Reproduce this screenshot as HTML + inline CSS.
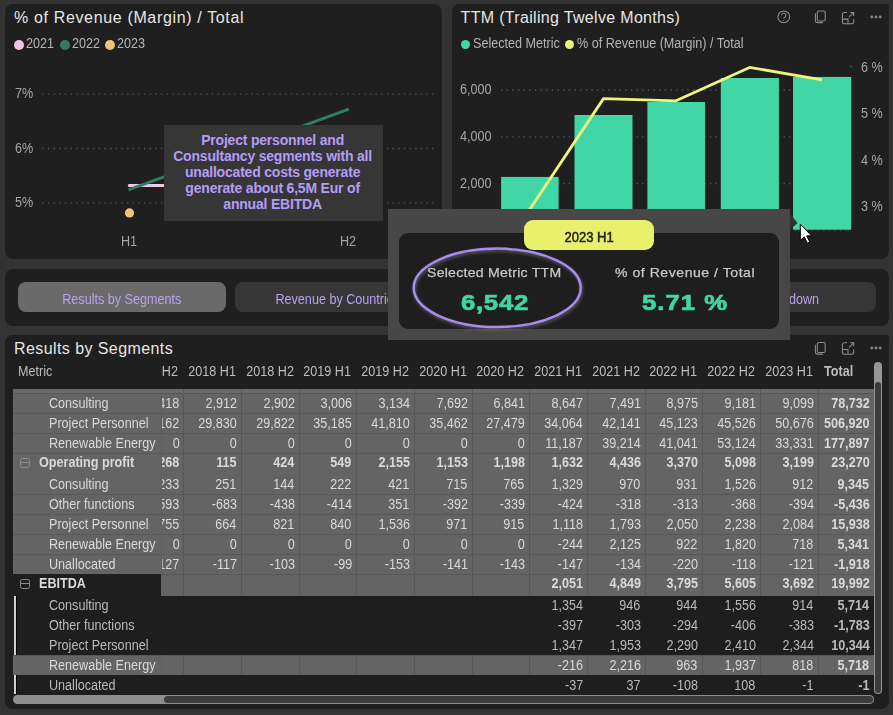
<!DOCTYPE html>
<html><head><meta charset="utf-8">
<style>
*{margin:0;padding:0;box-sizing:border-box}
html,body{width:893px;height:715px;overflow:hidden;background:#333333;font-family:"Liberation Sans",sans-serif}
.p{position:absolute;background:#1f1f1f;border-radius:8px}
.abs{position:absolute}
.t{position:absolute;white-space:nowrap;font-size:14px;line-height:20px;transform:scaleX(0.9);transform-origin:0 0}
.tr{transform-origin:100% 0}
.tc{transform-origin:50% 0}
.title{position:absolute;font-size:16px;line-height:20px;color:#e6e6e6;white-space:nowrap}
.leg{color:#b4b4b4}
.ax{color:#a6a6a6}
.dot{position:absolute;width:9.8px;height:9.8px;border-radius:50%}
.band{position:absolute;background:#6a6a6a}
.rg{position:absolute;background:#646464}
.rd{position:absolute;background:#1e1e1e}
.hs{position:absolute;height:1px;background:#575757}
.vs{position:absolute;width:1px;background:#575757}
.tg{color:#d9d9d9}
.td{color:#bababa}
.b{font-weight:bold}
.minus{position:absolute;width:10px;height:9.7px;border:1.3px solid #8c8c8c;border-radius:2.5px}
.minus:after{content:"";position:absolute;left:0;right:0;top:3.2px;height:1.1px;background:#8c8c8c}
.hd{color:#bdbdbd}
.btn{position:absolute;border-radius:8px;background:#363636;overflow:hidden}
.bt{color:#b9a1f3}
</style></head><body>
<!-- panel A -->
<div class="p" style="left:5px;top:4px;width:437px;height:254.8px"></div>
<div class="title" style="left:14px;top:8.2px;letter-spacing:0.65px">% of Revenue (Margin) / Total</div>
<div class="dot" style="left:14.4px;top:39.9px;background:#f2c3e6"></div>
<div class="t leg" style="left:26.1px;top:33.1px">2021</div>
<div class="dot" style="left:59.9px;top:39.9px;background:#2e7d5e"></div>
<div class="t leg" style="left:71.5px;top:33.1px">2022</div>
<div class="dot" style="left:105px;top:39.9px;background:#eec478"></div>
<div class="t leg" style="left:117px;top:33.1px">2023</div>
<div class="t ax" style="left:14.7px;top:83.1px">7%</div>
<div class="t ax" style="left:14.7px;top:137.5px">6%</div>
<div class="t ax" style="left:14.7px;top:191.8px">5%</div>
<svg class="abs" style="left:0;top:0" width="893" height="715">
<g stroke="#575757" stroke-width="1.3" stroke-dasharray="1.3 4.35">
<line x1="42.3" y1="94.1" x2="437" y2="94.1"/>
<line x1="42.3" y1="148.5" x2="437" y2="148.5"/>
<line x1="42.3" y1="202.9" x2="437" y2="202.9"/>
</g>
<line x1="129.3" y1="185.5" x2="165" y2="185.5" stroke="#f5c6ea" stroke-width="3" stroke-linecap="round"/>
<line x1="128.5" y1="189.8" x2="348.8" y2="109.2" stroke="#2d7f5f" stroke-width="3"/>
<circle cx="129.5" cy="212.9" r="4.6" fill="#efc478"/>
</svg>
<div class="t ax tc" style="left:109px;width:40px;text-align:center;top:231.2px">H1</div>
<div class="t ax tc" style="left:328px;width:40px;text-align:center;top:231.2px">H2</div>
<div class="abs" style="left:163.5px;top:125.3px;width:219.6px;height:95.7px;background:#363636"></div>
<div class="abs" style="left:162.6px;top:131.5px;width:220px;color:#b59cf6;font-weight:bold;font-size:14px;line-height:16px;text-align:center;letter-spacing:-0.2px;white-space:nowrap">Project personnel and<br>Consultancy segments with all<br>unallocated costs generate<br>generate about 6,5M Eur of<br>annual EBITDA</div>

<!-- panel B -->
<div class="p" style="left:452px;top:4px;width:436.8px;height:254.6px;border-top-right-radius:3px"></div>
<div class="title" style="left:460.6px;top:8.2px;letter-spacing:0.32px">TTM (Trailing Twelve Months)</div>
<div class="dot" style="left:460.6px;top:39.6px;background:#41d6a6"></div>
<div class="t leg" style="left:472.7px;top:33.1px">Selected Metric</div>
<div class="dot" style="left:564.6px;top:39.6px;background:#eef27a"></div>
<div class="t leg" style="left:577px;top:33.1px">% of Revenue (Margin) / Total</div>
<div class="t ax" style="left:460.2px;top:79.4px">6,000</div>
<div class="t ax" style="left:460.2px;top:126.1px">4,000</div>
<div class="t ax" style="left:460.2px;top:173.4px">2,000</div>
<svg class="abs" style="left:0;top:0" width="893" height="715">
<g stroke="#575757" stroke-width="1.3" stroke-dasharray="1.3 4.35">
<line x1="501" y1="90" x2="851" y2="90"/>
<line x1="501" y1="136.9" x2="851" y2="136.9"/>
<line x1="501" y1="183.5" x2="851" y2="183.5"/>
<line x1="501" y1="230.4" x2="851" y2="230.4"/>
</g>
<circle cx="851" cy="66.5" r="0.7" fill="#777"/>
<g fill="#41d6a6">
<rect x="501.1" y="176.9" width="57.5" height="53.1"/>
<rect x="574.5" y="115" width="58" height="115"/>
<rect x="647.4" y="102" width="57.6" height="128"/>
<rect x="720.8" y="78" width="58.1" height="152"/>
<rect x="793" y="76.9" width="58.2" height="152.8"/>
</g>
<polyline points="528,212 603.5,98.6 676,100.8 749.6,67.4 822,79.8" fill="none" stroke="#eff47b" stroke-width="2.8" stroke-linejoin="round"/>
</svg>
<div class="t ax" style="left:860.9px;top:56.6px">6 %</div>
<div class="t ax" style="left:860.9px;top:103.4px">5 %</div>
<div class="t ax" style="left:860.9px;top:149.8px">4 %</div>
<div class="t ax" style="left:860.9px;top:196.2px">3 %</div>
<svg class="abs" style="left:770px;top:0" width="123" height="40" fill="none" stroke="#8e8e8e" stroke-width="1.05">
<circle cx="13.8" cy="16.8" r="5.9"/>
<path d="M11.7 15.2a2.1 2.1 0 1 1 3.2 1.8c-.8.5-1.1.9-1.1 1.7" />
<circle cx="13.8" cy="20.5" r="0.5" fill="#9a9a9a" stroke="none"/>
<g transform="translate(45.4 11)"><rect x="1.9" y="0" width="7.9" height="9.9" rx="1.5"/><path d="M0 2.3V9.6a2 2 0 0 0 2 2H7.5"/></g>
<g transform="translate(72.4 12.4)"><path d="M4.6 0H2a2 2 0 0 0-2 2V9.4a2 2 0 0 0 2 2H9.3a2 2 0 0 0 2-2V6.7M0 6.7H5.6V11.4M6.6 4.8L11.3 0M7.8 0H11.3V3.5"/></g>
<circle cx="101.8" cy="17" r="1.4" fill="#8a8a8a" stroke="none"/>
<circle cx="106" cy="17" r="1.4" fill="#8a8a8a" stroke="none"/>
<circle cx="110.2" cy="17" r="1.4" fill="#8a8a8a" stroke="none"/>
</svg>

<!-- panel C buttons -->
<div class="p" style="left:5px;top:269px;width:883.8px;height:56.6px"></div>
<div class="btn" style="left:18px;top:282px;width:207.6px;height:29.8px;background:#6a6a6a"></div>
<div class="t bt tc" style="left:18px;width:207.6px;text-align:center;top:288.8px">Results by Segments</div>
<div class="btn" style="left:235.2px;top:282.2px;width:207.6px;height:29.6px"></div>
<div class="t bt tc" style="left:234.2px;width:207.6px;text-align:center;top:288.8px">Revenue by Countries</div>
<div class="btn" style="left:452px;top:282.2px;width:207.6px;height:29.6px"></div>
<div class="btn" style="left:668.2px;top:282px;width:207.6px;height:30px"></div>
<div class="t bt tr" style="right:73.8px;top:288.8px">Profit breakdown</div>

<!-- panel D table -->
<div class="p" style="left:5px;top:335.2px;width:883.8px;height:373.8px;border-top-right-radius:3px"></div>
<div class="title" style="left:14px;top:339.4px;letter-spacing:0.42px">Results by Segments</div>
<svg class="abs" style="left:800px;top:335px" width="93" height="40" fill="none" stroke="#8e8e8e" stroke-width="1.05">
<g transform="translate(15.4 7.5)"><rect x="1.9" y="0" width="7.9" height="9.9" rx="1.5"/><path d="M0 2.3V9.6a2 2 0 0 0 2 2H7.5"/></g>
<g transform="translate(42.4 7.8)"><path d="M4.6 0H2a2 2 0 0 0-2 2V9.4a2 2 0 0 0 2 2H9.3a2 2 0 0 0 2-2V6.7M0 6.7H5.6V11.4M6.6 4.8L11.3 0M7.8 0H11.3V3.5"/></g>
<circle cx="71.8" cy="13" r="1.4" fill="#8a8a8a" stroke="none"/>
<circle cx="76" cy="13" r="1.4" fill="#8a8a8a" stroke="none"/>
<circle cx="80.2" cy="13" r="1.4" fill="#8a8a8a" stroke="none"/>
</svg>
<div class="t hd" style="left:17.6px;top:361.3px">Metric</div>
<div class="t tr hd" style="top:361.3px;right:715.20px">H2</div>
<div class="t tr hd" style="top:361.3px;right:657.20px">2018 H1</div>
<div class="t tr hd" style="top:361.3px;right:599.20px">2018 H2</div>
<div class="t tr hd" style="top:361.3px;right:542.20px">2019 H1</div>
<div class="t tr hd" style="top:361.3px;right:484.20px">2019 H2</div>
<div class="t tr hd" style="top:361.3px;right:426.20px">2020 H1</div>
<div class="t tr hd" style="top:361.3px;right:369.20px">2020 H2</div>
<div class="t tr hd" style="top:361.3px;right:311.20px">2021 H1</div>
<div class="t tr hd" style="top:361.3px;right:253.20px">2021 H2</div>
<div class="t tr hd" style="top:361.3px;right:196.20px">2022 H1</div>
<div class="t tr hd" style="top:361.3px;right:138.20px">2022 H2</div>
<div class="t tr hd" style="top:361.3px;right:80.20px">2023 H1</div>
<div class="t hd b" style="top:361.3px;left:823.6px">Total</div>
<div class="band" style="left:13px;top:389px;width:860.7px;height:4px"></div>
<div class="rg" style="top:393px;height:20px;left:13px;width:860.7px"></div>
<div class="t tr tg" style="top:393.17px;right:713.20px">418</div>
<div class="t tr tg" style="top:393.17px;right:656.20px">2,912</div>
<div class="t tr tg" style="top:393.17px;right:598.20px">2,902</div>
<div class="t tr tg" style="top:393.17px;right:541.20px">3,006</div>
<div class="t tr tg" style="top:393.17px;right:483.20px">3,134</div>
<div class="t tr tg" style="top:393.17px;right:425.20px">7,692</div>
<div class="t tr tg" style="top:393.17px;right:368.20px">6,841</div>
<div class="t tr tg" style="top:393.17px;right:310.20px">8,647</div>
<div class="t tr tg" style="top:393.17px;right:252.20px">7,491</div>
<div class="t tr tg" style="top:393.17px;right:195.20px">8,975</div>
<div class="t tr tg" style="top:393.17px;right:137.20px">9,181</div>
<div class="t tr tg" style="top:393.17px;right:79.20px">9,099</div>
<div class="t tr tg b" style="top:393.17px;right:23.50px">78,732</div>
<div class="rg" style="top:393px;height:20px;left:13px;width:148px"></div>
<div class="t tg" style="top:393.17px;left:48.8px">Consulting</div>
<div class="rg" style="top:413px;height:20px;left:13px;width:860.7px"></div>
<div class="t tr tg" style="top:413.17px;right:713.20px">162</div>
<div class="t tr tg" style="top:413.17px;right:656.20px">29,830</div>
<div class="t tr tg" style="top:413.17px;right:598.20px">29,822</div>
<div class="t tr tg" style="top:413.17px;right:541.20px">35,185</div>
<div class="t tr tg" style="top:413.17px;right:483.20px">41,810</div>
<div class="t tr tg" style="top:413.17px;right:425.20px">35,462</div>
<div class="t tr tg" style="top:413.17px;right:368.20px">27,479</div>
<div class="t tr tg" style="top:413.17px;right:310.20px">34,064</div>
<div class="t tr tg" style="top:413.17px;right:252.20px">42,141</div>
<div class="t tr tg" style="top:413.17px;right:195.20px">45,123</div>
<div class="t tr tg" style="top:413.17px;right:137.20px">45,526</div>
<div class="t tr tg" style="top:413.17px;right:79.20px">50,676</div>
<div class="t tr tg b" style="top:413.17px;right:23.50px">506,920</div>
<div class="rg" style="top:413px;height:20px;left:13px;width:148px"></div>
<div class="t tg" style="top:413.17px;left:48.8px">Project Personnel</div>
<div class="rg" style="top:433px;height:20px;left:13px;width:860.7px"></div>
<div class="t tr tg" style="top:433.17px;right:713.20px">0</div>
<div class="t tr tg" style="top:433.17px;right:656.20px">0</div>
<div class="t tr tg" style="top:433.17px;right:598.20px">0</div>
<div class="t tr tg" style="top:433.17px;right:541.20px">0</div>
<div class="t tr tg" style="top:433.17px;right:483.20px">0</div>
<div class="t tr tg" style="top:433.17px;right:425.20px">0</div>
<div class="t tr tg" style="top:433.17px;right:368.20px">0</div>
<div class="t tr tg" style="top:433.17px;right:310.20px">11,187</div>
<div class="t tr tg" style="top:433.17px;right:252.20px">39,214</div>
<div class="t tr tg" style="top:433.17px;right:195.20px">41,041</div>
<div class="t tr tg" style="top:433.17px;right:137.20px">53,124</div>
<div class="t tr tg" style="top:433.17px;right:79.20px">33,331</div>
<div class="t tr tg b" style="top:433.17px;right:23.50px">177,897</div>
<div class="rg" style="top:433px;height:20px;left:13px;width:148px"></div>
<div class="t tg" style="top:433.17px;left:48.8px">Renewable Energy</div>
<div class="rg" style="top:453px;height:21px;left:13px;width:860.7px"></div>
<div class="t tr tg b" style="top:451.97px;right:713.20px">268</div>
<div class="t tr tg b" style="top:451.97px;right:656.20px">115</div>
<div class="t tr tg b" style="top:451.97px;right:598.20px">424</div>
<div class="t tr tg b" style="top:451.97px;right:541.20px">549</div>
<div class="t tr tg b" style="top:451.97px;right:483.20px">2,155</div>
<div class="t tr tg b" style="top:451.97px;right:425.20px">1,153</div>
<div class="t tr tg b" style="top:451.97px;right:368.20px">1,198</div>
<div class="t tr tg b" style="top:451.97px;right:310.20px">1,632</div>
<div class="t tr tg b" style="top:451.97px;right:252.20px">4,436</div>
<div class="t tr tg b" style="top:451.97px;right:195.20px">3,370</div>
<div class="t tr tg b" style="top:451.97px;right:137.20px">5,098</div>
<div class="t tr tg b" style="top:451.97px;right:79.20px">3,199</div>
<div class="t tr tg b" style="top:451.97px;right:23.50px">23,270</div>
<div class="rg" style="top:453px;height:21px;left:13px;width:148px"></div>
<div class="minus" style="top:457.90px;left:19.7px"></div>
<div class="t tg b" style="top:451.97px;left:39.2px">Operating profit</div>
<div class="rg" style="top:474px;height:20px;left:13px;width:860.7px"></div>
<div class="t tr tg" style="top:474.17px;right:713.20px">233</div>
<div class="t tr tg" style="top:474.17px;right:656.20px">251</div>
<div class="t tr tg" style="top:474.17px;right:598.20px">144</div>
<div class="t tr tg" style="top:474.17px;right:541.20px">222</div>
<div class="t tr tg" style="top:474.17px;right:483.20px">421</div>
<div class="t tr tg" style="top:474.17px;right:425.20px">715</div>
<div class="t tr tg" style="top:474.17px;right:368.20px">765</div>
<div class="t tr tg" style="top:474.17px;right:310.20px">1,329</div>
<div class="t tr tg" style="top:474.17px;right:252.20px">970</div>
<div class="t tr tg" style="top:474.17px;right:195.20px">931</div>
<div class="t tr tg" style="top:474.17px;right:137.20px">1,526</div>
<div class="t tr tg" style="top:474.17px;right:79.20px">912</div>
<div class="t tr tg b" style="top:474.17px;right:23.50px">9,345</div>
<div class="rg" style="top:474px;height:20px;left:13px;width:148px"></div>
<div class="t tg" style="top:474.17px;left:48.8px">Consulting</div>
<div class="rg" style="top:494px;height:20px;left:13px;width:860.7px"></div>
<div class="t tr tg" style="top:494.17px;right:713.20px">593</div>
<div class="t tr tg" style="top:494.17px;right:656.20px">-683</div>
<div class="t tr tg" style="top:494.17px;right:598.20px">-438</div>
<div class="t tr tg" style="top:494.17px;right:541.20px">-414</div>
<div class="t tr tg" style="top:494.17px;right:483.20px">351</div>
<div class="t tr tg" style="top:494.17px;right:425.20px">-392</div>
<div class="t tr tg" style="top:494.17px;right:368.20px">-339</div>
<div class="t tr tg" style="top:494.17px;right:310.20px">-424</div>
<div class="t tr tg" style="top:494.17px;right:252.20px">-318</div>
<div class="t tr tg" style="top:494.17px;right:195.20px">-313</div>
<div class="t tr tg" style="top:494.17px;right:137.20px">-368</div>
<div class="t tr tg" style="top:494.17px;right:79.20px">-394</div>
<div class="t tr tg b" style="top:494.17px;right:23.50px">-5,436</div>
<div class="rg" style="top:494px;height:20px;left:13px;width:148px"></div>
<div class="t tg" style="top:494.17px;left:48.8px">Other functions</div>
<div class="rg" style="top:514px;height:20px;left:13px;width:860.7px"></div>
<div class="t tr tg" style="top:514.17px;right:713.20px">755</div>
<div class="t tr tg" style="top:514.17px;right:656.20px">664</div>
<div class="t tr tg" style="top:514.17px;right:598.20px">821</div>
<div class="t tr tg" style="top:514.17px;right:541.20px">840</div>
<div class="t tr tg" style="top:514.17px;right:483.20px">1,536</div>
<div class="t tr tg" style="top:514.17px;right:425.20px">971</div>
<div class="t tr tg" style="top:514.17px;right:368.20px">915</div>
<div class="t tr tg" style="top:514.17px;right:310.20px">1,118</div>
<div class="t tr tg" style="top:514.17px;right:252.20px">1,793</div>
<div class="t tr tg" style="top:514.17px;right:195.20px">2,050</div>
<div class="t tr tg" style="top:514.17px;right:137.20px">2,238</div>
<div class="t tr tg" style="top:514.17px;right:79.20px">2,084</div>
<div class="t tr tg b" style="top:514.17px;right:23.50px">15,938</div>
<div class="rg" style="top:514px;height:20px;left:13px;width:148px"></div>
<div class="t tg" style="top:514.17px;left:48.8px">Project Personnel</div>
<div class="rg" style="top:534px;height:20px;left:13px;width:860.7px"></div>
<div class="t tr tg" style="top:534.17px;right:713.20px">0</div>
<div class="t tr tg" style="top:534.17px;right:656.20px">0</div>
<div class="t tr tg" style="top:534.17px;right:598.20px">0</div>
<div class="t tr tg" style="top:534.17px;right:541.20px">0</div>
<div class="t tr tg" style="top:534.17px;right:483.20px">0</div>
<div class="t tr tg" style="top:534.17px;right:425.20px">0</div>
<div class="t tr tg" style="top:534.17px;right:368.20px">0</div>
<div class="t tr tg" style="top:534.17px;right:310.20px">-244</div>
<div class="t tr tg" style="top:534.17px;right:252.20px">2,125</div>
<div class="t tr tg" style="top:534.17px;right:195.20px">922</div>
<div class="t tr tg" style="top:534.17px;right:137.20px">1,820</div>
<div class="t tr tg" style="top:534.17px;right:79.20px">718</div>
<div class="t tr tg b" style="top:534.17px;right:23.50px">5,341</div>
<div class="rg" style="top:534px;height:20px;left:13px;width:148px"></div>
<div class="t tg" style="top:534.17px;left:48.8px">Renewable Energy</div>
<div class="rg" style="top:554px;height:20px;left:13px;width:860.7px"></div>
<div class="t tr tg" style="top:554.17px;right:713.20px">127</div>
<div class="t tr tg" style="top:554.17px;right:656.20px">-117</div>
<div class="t tr tg" style="top:554.17px;right:598.20px">-103</div>
<div class="t tr tg" style="top:554.17px;right:541.20px">-99</div>
<div class="t tr tg" style="top:554.17px;right:483.20px">-153</div>
<div class="t tr tg" style="top:554.17px;right:425.20px">-141</div>
<div class="t tr tg" style="top:554.17px;right:368.20px">-143</div>
<div class="t tr tg" style="top:554.17px;right:310.20px">-147</div>
<div class="t tr tg" style="top:554.17px;right:252.20px">-134</div>
<div class="t tr tg" style="top:554.17px;right:195.20px">-220</div>
<div class="t tr tg" style="top:554.17px;right:137.20px">-118</div>
<div class="t tr tg" style="top:554.17px;right:79.20px">-121</div>
<div class="t tr tg b" style="top:554.17px;right:23.50px">-1,918</div>
<div class="rg" style="top:554px;height:20px;left:13px;width:148px"></div>
<div class="t tg" style="top:554.17px;left:48.8px">Unallocated</div>
<div class="rd" style="top:574px;height:22px;left:13px;width:148px"></div>
<div class="rg" style="top:574px;height:22px;left:161px;width:712.7px"></div>
<div class="t tr tg b" style="top:573.17px;right:310.20px">2,051</div>
<div class="t tr tg b" style="top:573.17px;right:252.20px">4,849</div>
<div class="t tr tg b" style="top:573.17px;right:195.20px">3,795</div>
<div class="t tr tg b" style="top:573.17px;right:137.20px">5,605</div>
<div class="t tr tg b" style="top:573.17px;right:79.20px">3,692</div>
<div class="t tr tg b" style="top:573.17px;right:23.50px">19,992</div>
<div class="rd" style="top:574px;height:22px;left:13px;width:148px"></div>
<div class="minus" style="top:578.90px;left:19.7px"></div>
<div class="t tg b" style="top:573.17px;left:39.2px">EBITDA</div>
<div class="rd" style="top:596px;height:19px;left:13px;width:860.7px"></div>
<div class="t tr td" style="top:595.17px;right:310.20px">1,354</div>
<div class="t tr td" style="top:595.17px;right:252.20px">946</div>
<div class="t tr td" style="top:595.17px;right:195.20px">944</div>
<div class="t tr td" style="top:595.17px;right:137.20px">1,556</div>
<div class="t tr td" style="top:595.17px;right:79.20px">914</div>
<div class="t tr td b" style="top:595.17px;right:23.50px">5,714</div>
<div class="rd" style="top:596px;height:19px;left:13px;width:148px"></div>
<div class="t td" style="top:595.17px;left:48.8px">Consulting</div>
<div class="rd" style="top:615px;height:20px;left:13px;width:860.7px"></div>
<div class="t tr td" style="top:615.17px;right:310.20px">-397</div>
<div class="t tr td" style="top:615.17px;right:252.20px">-303</div>
<div class="t tr td" style="top:615.17px;right:195.20px">-294</div>
<div class="t tr td" style="top:615.17px;right:137.20px">-406</div>
<div class="t tr td" style="top:615.17px;right:79.20px">-383</div>
<div class="t tr td b" style="top:615.17px;right:23.50px">-1,783</div>
<div class="rd" style="top:615px;height:20px;left:13px;width:148px"></div>
<div class="t td" style="top:615.17px;left:48.8px">Other functions</div>
<div class="rd" style="top:635px;height:20px;left:13px;width:860.7px"></div>
<div class="t tr td" style="top:635.17px;right:310.20px">1,347</div>
<div class="t tr td" style="top:635.17px;right:252.20px">1,953</div>
<div class="t tr td" style="top:635.17px;right:195.20px">2,290</div>
<div class="t tr td" style="top:635.17px;right:137.20px">2,410</div>
<div class="t tr td" style="top:635.17px;right:79.20px">2,344</div>
<div class="t tr td b" style="top:635.17px;right:23.50px">10,344</div>
<div class="rd" style="top:635px;height:20px;left:13px;width:148px"></div>
<div class="t td" style="top:635.17px;left:48.8px">Project Personnel</div>
<div class="rg" style="top:655px;height:20px;left:13px;width:860.7px"></div>
<div class="t tr tg" style="top:655.17px;right:310.20px">-216</div>
<div class="t tr tg" style="top:655.17px;right:252.20px">2,216</div>
<div class="t tr tg" style="top:655.17px;right:195.20px">963</div>
<div class="t tr tg" style="top:655.17px;right:137.20px">1,937</div>
<div class="t tr tg" style="top:655.17px;right:79.20px">818</div>
<div class="t tr tg b" style="top:655.17px;right:23.50px">5,718</div>
<div class="rg" style="top:655px;height:20px;left:13px;width:148px"></div>
<div class="t tg" style="top:655.17px;left:48.8px">Renewable Energy</div>
<div class="rd" style="top:675px;height:19px;left:13px;width:860.7px"></div>
<div class="t tr td" style="top:675.17px;right:310.20px">-37</div>
<div class="t tr td" style="top:675.17px;right:252.20px">37</div>
<div class="t tr td" style="top:675.17px;right:195.20px">-108</div>
<div class="t tr td" style="top:675.17px;right:137.20px">108</div>
<div class="t tr td" style="top:675.17px;right:79.20px">-1</div>
<div class="t tr td b" style="top:675.17px;right:23.50px">-1</div>
<div class="rd" style="top:675px;height:19px;left:13px;width:148px"></div>
<div class="t td" style="top:675.17px;left:48.8px">Unallocated</div>
<div class="vs" style="left:183px;top:389px;height:24px"></div>
<div class="vs" style="left:241px;top:389px;height:24px"></div>
<div class="vs" style="left:299px;top:389px;height:24px"></div>
<div class="vs" style="left:356px;top:389px;height:24px"></div>
<div class="vs" style="left:414px;top:389px;height:24px"></div>
<div class="vs" style="left:472px;top:389px;height:24px"></div>
<div class="vs" style="left:529px;top:389px;height:24px"></div>
<div class="vs" style="left:587px;top:389px;height:24px"></div>
<div class="vs" style="left:645px;top:389px;height:24px"></div>
<div class="vs" style="left:702px;top:389px;height:24px"></div>
<div class="vs" style="left:760px;top:389px;height:24px"></div>
<div class="vs" style="left:818px;top:389px;height:24px"></div>
<div class="vs" style="left:161px;top:393px;height:20px;background:#5e5e5e"></div>
<div class="hs" style="top:413px;left:13px;width:860.7px"></div>
<div class="vs" style="left:183px;top:413px;height:20px"></div>
<div class="vs" style="left:241px;top:413px;height:20px"></div>
<div class="vs" style="left:299px;top:413px;height:20px"></div>
<div class="vs" style="left:356px;top:413px;height:20px"></div>
<div class="vs" style="left:414px;top:413px;height:20px"></div>
<div class="vs" style="left:472px;top:413px;height:20px"></div>
<div class="vs" style="left:529px;top:413px;height:20px"></div>
<div class="vs" style="left:587px;top:413px;height:20px"></div>
<div class="vs" style="left:645px;top:413px;height:20px"></div>
<div class="vs" style="left:702px;top:413px;height:20px"></div>
<div class="vs" style="left:760px;top:413px;height:20px"></div>
<div class="vs" style="left:818px;top:413px;height:20px"></div>
<div class="vs" style="left:161px;top:413px;height:20px;background:#5e5e5e"></div>
<div class="hs" style="top:433px;left:13px;width:860.7px"></div>
<div class="vs" style="left:183px;top:433px;height:20px"></div>
<div class="vs" style="left:241px;top:433px;height:20px"></div>
<div class="vs" style="left:299px;top:433px;height:20px"></div>
<div class="vs" style="left:356px;top:433px;height:20px"></div>
<div class="vs" style="left:414px;top:433px;height:20px"></div>
<div class="vs" style="left:472px;top:433px;height:20px"></div>
<div class="vs" style="left:529px;top:433px;height:20px"></div>
<div class="vs" style="left:587px;top:433px;height:20px"></div>
<div class="vs" style="left:645px;top:433px;height:20px"></div>
<div class="vs" style="left:702px;top:433px;height:20px"></div>
<div class="vs" style="left:760px;top:433px;height:20px"></div>
<div class="vs" style="left:818px;top:433px;height:20px"></div>
<div class="vs" style="left:161px;top:433px;height:20px;background:#5e5e5e"></div>
<div class="hs" style="top:453px;left:13px;width:860.7px"></div>
<div class="vs" style="left:183px;top:453px;height:21px"></div>
<div class="vs" style="left:241px;top:453px;height:21px"></div>
<div class="vs" style="left:299px;top:453px;height:21px"></div>
<div class="vs" style="left:356px;top:453px;height:21px"></div>
<div class="vs" style="left:414px;top:453px;height:21px"></div>
<div class="vs" style="left:472px;top:453px;height:21px"></div>
<div class="vs" style="left:529px;top:453px;height:21px"></div>
<div class="vs" style="left:587px;top:453px;height:21px"></div>
<div class="vs" style="left:645px;top:453px;height:21px"></div>
<div class="vs" style="left:702px;top:453px;height:21px"></div>
<div class="vs" style="left:760px;top:453px;height:21px"></div>
<div class="vs" style="left:818px;top:453px;height:21px"></div>
<div class="vs" style="left:161px;top:453px;height:21px;background:#5e5e5e"></div>
<div class="vs" style="left:183px;top:474px;height:20px"></div>
<div class="vs" style="left:241px;top:474px;height:20px"></div>
<div class="vs" style="left:299px;top:474px;height:20px"></div>
<div class="vs" style="left:356px;top:474px;height:20px"></div>
<div class="vs" style="left:414px;top:474px;height:20px"></div>
<div class="vs" style="left:472px;top:474px;height:20px"></div>
<div class="vs" style="left:529px;top:474px;height:20px"></div>
<div class="vs" style="left:587px;top:474px;height:20px"></div>
<div class="vs" style="left:645px;top:474px;height:20px"></div>
<div class="vs" style="left:702px;top:474px;height:20px"></div>
<div class="vs" style="left:760px;top:474px;height:20px"></div>
<div class="vs" style="left:818px;top:474px;height:20px"></div>
<div class="vs" style="left:161px;top:474px;height:20px;background:#5e5e5e"></div>
<div class="hs" style="top:494px;left:13px;width:860.7px"></div>
<div class="vs" style="left:183px;top:494px;height:20px"></div>
<div class="vs" style="left:241px;top:494px;height:20px"></div>
<div class="vs" style="left:299px;top:494px;height:20px"></div>
<div class="vs" style="left:356px;top:494px;height:20px"></div>
<div class="vs" style="left:414px;top:494px;height:20px"></div>
<div class="vs" style="left:472px;top:494px;height:20px"></div>
<div class="vs" style="left:529px;top:494px;height:20px"></div>
<div class="vs" style="left:587px;top:494px;height:20px"></div>
<div class="vs" style="left:645px;top:494px;height:20px"></div>
<div class="vs" style="left:702px;top:494px;height:20px"></div>
<div class="vs" style="left:760px;top:494px;height:20px"></div>
<div class="vs" style="left:818px;top:494px;height:20px"></div>
<div class="vs" style="left:161px;top:494px;height:20px;background:#5e5e5e"></div>
<div class="hs" style="top:514px;left:13px;width:860.7px"></div>
<div class="vs" style="left:183px;top:514px;height:20px"></div>
<div class="vs" style="left:241px;top:514px;height:20px"></div>
<div class="vs" style="left:299px;top:514px;height:20px"></div>
<div class="vs" style="left:356px;top:514px;height:20px"></div>
<div class="vs" style="left:414px;top:514px;height:20px"></div>
<div class="vs" style="left:472px;top:514px;height:20px"></div>
<div class="vs" style="left:529px;top:514px;height:20px"></div>
<div class="vs" style="left:587px;top:514px;height:20px"></div>
<div class="vs" style="left:645px;top:514px;height:20px"></div>
<div class="vs" style="left:702px;top:514px;height:20px"></div>
<div class="vs" style="left:760px;top:514px;height:20px"></div>
<div class="vs" style="left:818px;top:514px;height:20px"></div>
<div class="vs" style="left:161px;top:514px;height:20px;background:#5e5e5e"></div>
<div class="hs" style="top:534px;left:13px;width:860.7px"></div>
<div class="vs" style="left:183px;top:534px;height:20px"></div>
<div class="vs" style="left:241px;top:534px;height:20px"></div>
<div class="vs" style="left:299px;top:534px;height:20px"></div>
<div class="vs" style="left:356px;top:534px;height:20px"></div>
<div class="vs" style="left:414px;top:534px;height:20px"></div>
<div class="vs" style="left:472px;top:534px;height:20px"></div>
<div class="vs" style="left:529px;top:534px;height:20px"></div>
<div class="vs" style="left:587px;top:534px;height:20px"></div>
<div class="vs" style="left:645px;top:534px;height:20px"></div>
<div class="vs" style="left:702px;top:534px;height:20px"></div>
<div class="vs" style="left:760px;top:534px;height:20px"></div>
<div class="vs" style="left:818px;top:534px;height:20px"></div>
<div class="vs" style="left:161px;top:534px;height:20px;background:#5e5e5e"></div>
<div class="hs" style="top:554px;left:13px;width:860.7px"></div>
<div class="vs" style="left:183px;top:554px;height:20px"></div>
<div class="vs" style="left:241px;top:554px;height:20px"></div>
<div class="vs" style="left:299px;top:554px;height:20px"></div>
<div class="vs" style="left:356px;top:554px;height:20px"></div>
<div class="vs" style="left:414px;top:554px;height:20px"></div>
<div class="vs" style="left:472px;top:554px;height:20px"></div>
<div class="vs" style="left:529px;top:554px;height:20px"></div>
<div class="vs" style="left:587px;top:554px;height:20px"></div>
<div class="vs" style="left:645px;top:554px;height:20px"></div>
<div class="vs" style="left:702px;top:554px;height:20px"></div>
<div class="vs" style="left:760px;top:554px;height:20px"></div>
<div class="vs" style="left:818px;top:554px;height:20px"></div>
<div class="vs" style="left:161px;top:554px;height:20px;background:#5e5e5e"></div>
<div class="hs" style="top:574px;left:161px;width:712.7px"></div>
<div class="vs" style="left:183px;top:574px;height:22px"></div>
<div class="vs" style="left:241px;top:574px;height:22px"></div>
<div class="vs" style="left:299px;top:574px;height:22px"></div>
<div class="vs" style="left:356px;top:574px;height:22px"></div>
<div class="vs" style="left:414px;top:574px;height:22px"></div>
<div class="vs" style="left:472px;top:574px;height:22px"></div>
<div class="vs" style="left:529px;top:574px;height:22px"></div>
<div class="vs" style="left:587px;top:574px;height:22px"></div>
<div class="vs" style="left:645px;top:574px;height:22px"></div>
<div class="vs" style="left:702px;top:574px;height:22px"></div>
<div class="vs" style="left:760px;top:574px;height:22px"></div>
<div class="vs" style="left:818px;top:574px;height:22px"></div>
<div class="hs" style="top:655px;left:13px;width:860.7px"></div>
<div class="vs" style="left:183px;top:655px;height:20px"></div>
<div class="vs" style="left:241px;top:655px;height:20px"></div>
<div class="vs" style="left:299px;top:655px;height:20px"></div>
<div class="vs" style="left:356px;top:655px;height:20px"></div>
<div class="vs" style="left:414px;top:655px;height:20px"></div>
<div class="vs" style="left:472px;top:655px;height:20px"></div>
<div class="vs" style="left:529px;top:655px;height:20px"></div>
<div class="vs" style="left:587px;top:655px;height:20px"></div>
<div class="vs" style="left:645px;top:655px;height:20px"></div>
<div class="vs" style="left:702px;top:655px;height:20px"></div>
<div class="vs" style="left:760px;top:655px;height:20px"></div>
<div class="vs" style="left:818px;top:655px;height:20px"></div>
<div class="vs" style="left:161px;top:655px;height:20px;background:#5e5e5e"></div>
<div class="hs" style="top:393px;left:13px;width:860.7px"></div>
<div class="abs" style="left:13.5px;top:596px;width:2px;height:19px;background:#d0d0d0"></div><div class="abs" style="left:15.5px;top:596px;width:1.5px;height:19px;background:#050505"></div>
<div class="abs" style="left:13.5px;top:615px;width:2px;height:20px;background:#d0d0d0"></div><div class="abs" style="left:15.5px;top:615px;width:1.5px;height:20px;background:#050505"></div>
<div class="abs" style="left:13.5px;top:635px;width:2px;height:20px;background:#d0d0d0"></div><div class="abs" style="left:15.5px;top:635px;width:1.5px;height:20px;background:#050505"></div>
<div class="abs" style="left:13.5px;top:675px;width:2px;height:19px;background:#d0d0d0"></div><div class="abs" style="left:15.5px;top:675px;width:1.5px;height:19px;background:#050505"></div>
<!-- scrollbars -->
<div class="abs" style="left:873.7px;top:361.8px;width:7.9px;height:332.6px;border-radius:4px;background:#969696"></div>
<div class="abs" style="left:875.3px;top:382px;width:5.8px;height:311px;border-radius:3px;background:#3d3c3a"></div>
<div class="abs" style="left:13.3px;top:694.7px;width:860.7px;height:9.3px;border-radius:4.6px;background:#8e8e8e"></div>
<div class="abs" style="left:164.1px;top:695.9px;width:709px;height:6.9px;border-radius:3.5px;background:#3d3c3a"></div>
<!-- popup -->
<div class="abs" style="left:388.2px;top:209.4px;width:401.4px;height:131px;background:#474747"></div>
<div class="abs" style="left:399.2px;top:233.3px;width:379.5px;height:96px;background:#1e1e1e;border-radius:9px"></div>
<div class="abs" style="left:523.9px;top:220px;width:130.1px;height:29.8px;background:#e9f06b;border-radius:9px"></div>
<div class="t tc" style="left:523.9px;width:130.1px;text-align:center;top:227.1px;color:#1e1e1e;transform:scaleX(0.93);-webkit-text-stroke:0.5px #1e1e1e">2023 H1</div>
<svg class="abs" style="left:0;top:0;overflow:visible" width="893" height="715">
<defs><filter id="sh" x="-20%" y="-20%" width="140%" height="140%"><feGaussianBlur in="SourceAlpha" stdDeviation="1.8"/><feOffset dx="1" dy="2" result="b"/><feFlood flood-color="#6a6a6a" flood-opacity="0.75"/><feComposite in2="b" operator="in"/><feMerge><feMergeNode/><feMergeNode in="SourceGraphic"/></feMerge></filter></defs>
<ellipse cx="497.2" cy="287.8" rx="83.5" ry="39.2" fill="none" stroke="#a88af0" stroke-width="2.5" filter="url(#sh)"/>
<path d="M789.8 213 L797.5 223.2 L789.8 229.5 Z" fill="#2f2f2f"/>
<path d="M800.3 224.1 V240.6 L804.2 236.8 L807.3 243.2 L809.8 242.1 L806.8 235.8 L811.6 235.8 Z" fill="#fff" stroke="#000" stroke-width="1" stroke-linejoin="round"/>
</svg>
<div class="abs" style="left:427.3px;top:264.5px;font-size:13px;line-height:16px;color:#c8c8c8;white-space:nowrap;letter-spacing:0.25px;transform:scaleX(1.08);transform-origin:0 0;-webkit-text-stroke:0.25px #c8c8c8">Selected Metric TTM</div>
<div class="abs" style="left:615.1px;top:264.5px;font-size:13px;line-height:16px;color:#c8c8c8;white-space:nowrap;letter-spacing:0.5px;transform:scaleX(1.08);transform-origin:0 0;-webkit-text-stroke:0.25px #c8c8c8">% of Revenue / Total</div>
<div class="abs" style="left:461.3px;top:291.2px;font-size:22px;line-height:24px;font-weight:bold;color:#3fd6a3;white-space:nowrap;letter-spacing:0.6px;transform:scaleX(1.17);transform-origin:0 0;-webkit-text-stroke:0.7px #3fd6a3">6,542</div>
<div class="abs" style="left:642.3px;top:291.2px;font-size:22px;line-height:24px;font-weight:bold;color:#3fd6a3;white-space:nowrap;letter-spacing:0.85px;transform:scaleX(1.17);transform-origin:0 0;-webkit-text-stroke:0.7px #3fd6a3">5.71 %</div>
</body></html>
